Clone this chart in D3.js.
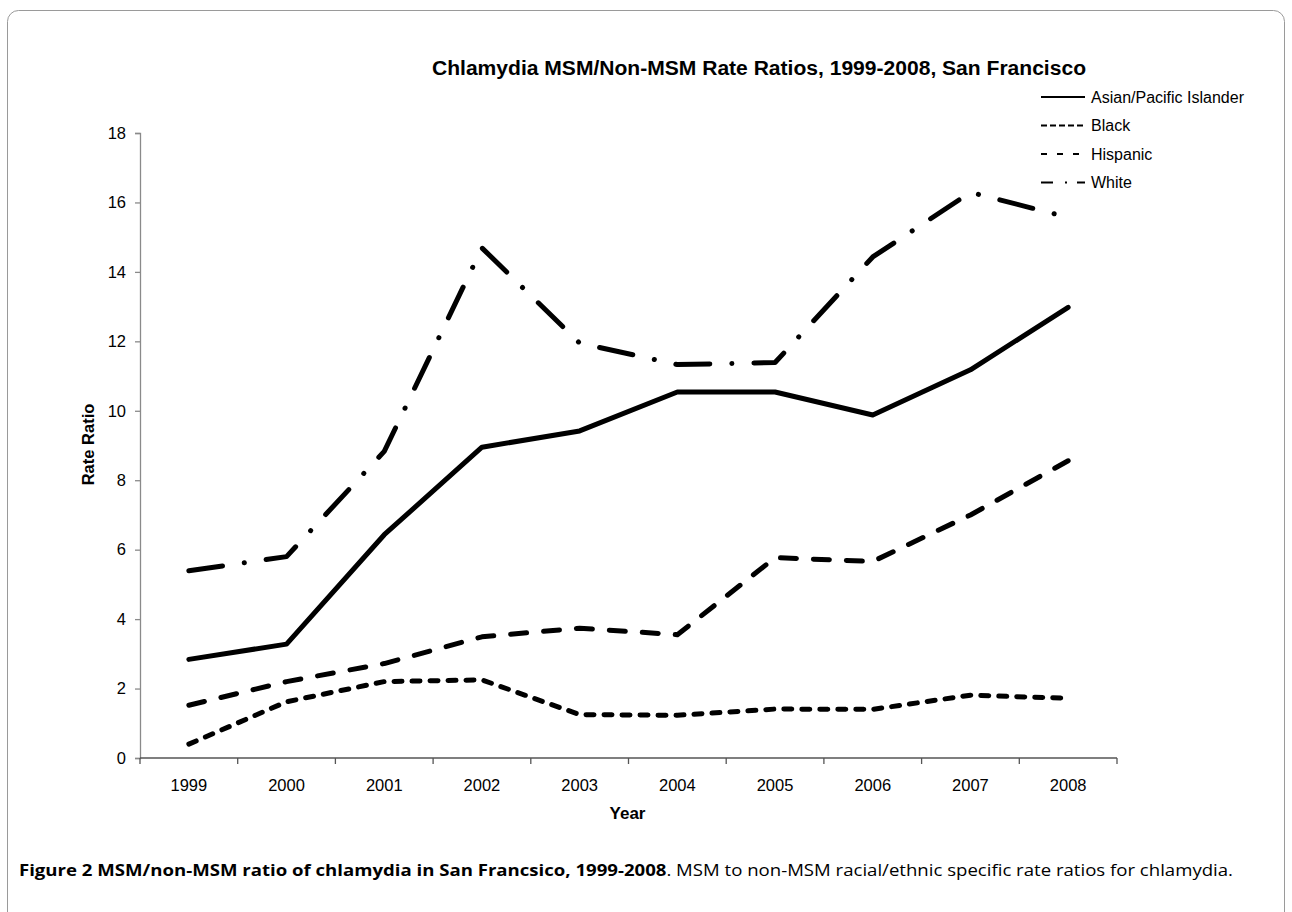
<!DOCTYPE html>
<html>
<head>
<meta charset="utf-8">
<script src="https://cdn.jsdelivr.net/npm/d3@7"></script>
<style>
  body { margin: 0; background: #fff; }
  svg text { font-family: "Liberation Sans", Arial, sans-serif; fill: #000; }
</style>
</head>
<body>
<div id="chart"></div>
<script>
var svgWidth = 1292;
var svgHeight = 912;

// data
var years = ["1999", "2000", "2001", "2002", "2003", "2004", "2005", "2006", "2007", "2008"];
var asian = [2.84, 3.28, 6.43, 8.95, 9.42, 10.54, 10.54, 9.88, 11.18, 12.98];
var black = [0.40, 1.62, 2.20, 2.25, 1.25, 1.23, 1.41, 1.40, 1.81, 1.72];
var hispanic = [1.52, 2.20, 2.72, 3.49, 3.74, 3.55, 5.77, 5.66, 7.00, 8.56];
var white = [5.39, 5.80, 8.83, 14.69, 11.95, 11.33, 11.39, 14.43, 16.29, 15.57];
var yTicks = [0, 2, 4, 6, 8, 10, 12, 14, 16, 18];

var seriesNames = ["Asian/Pacific Islander", "Black", "Hispanic", "White"];
var seriesValues = [asian, black, hispanic, white];
var dashes = [null, "8,10", "16,17", "34,22,0.1,22"];
var legendDashes = [null, "6,3", "6,10", "12,12,2,10,8"];

var margin = { top: 133, left: 140, right: 175, bottom: 154 };
var width = svgWidth - margin.left - margin.right;
var height = svgHeight - margin.top - margin.bottom;

var svg = d3.select("#chart")
  .append("svg")
  .attr("width", svgWidth)
  .attr("height", svgHeight);

// outer frame with rounded corners
svg.append("rect")
  .attr("x", 7.5)
  .attr("y", 10.5)
  .attr("width", 1277)
  .attr("height", 960)
  .attr("rx", 11)
  .attr("fill", "none")
  .attr("stroke", "#9a9a9a")
  .attr("stroke-width", 1);

var chartGroup = svg.append("g")
  .attr("transform", `translate(${margin.left}, ${margin.top})`);

var xScale = d3.scaleBand()
  .domain(years)
  .range([0, width]);

var yScale = d3.scaleLinear()
  .domain([0, 18])
  .range([height, 0]);

// y axis
var leftAxis = d3.axisLeft(yScale).tickValues(yTicks).tickSize(5).tickPadding(9);
var yAxis = chartGroup.append("g").call(leftAxis);
yAxis.select(".domain").attr("stroke", "#8a8a8a").attr("stroke-width", 1.3);
yAxis.selectAll(".tick line").attr("stroke", "#8a8a8a").attr("stroke-width", 1.3);
yAxis.selectAll("text")
  .attr("font-family", "Liberation Sans, Arial, sans-serif")
  .style("font-size", "16.5px").attr("fill", "#000");

// x axis, ticks sit between the categories
var xAxis = chartGroup.append("g")
  .attr("transform", `translate(0, ${height})`);
xAxis.append("line")
  .attr("x1", 0).attr("x2", width)
  .attr("stroke", "#555").attr("stroke-width", 1.3);
xAxis.selectAll(".xtick")
  .data(d3.range(years.length + 1))
  .enter()
  .append("line")
  .attr("x1", i => i * xScale.bandwidth())
  .attr("x2", i => i * xScale.bandwidth())
  .attr("y1", 0).attr("y2", 6)
  .attr("stroke", "#555").attr("stroke-width", 1.3);
xAxis.selectAll(".xlabel")
  .data(years)
  .enter()
  .append("text")
  .attr("x", d => xScale(d) + xScale.bandwidth() / 2)
  .attr("y", 33)
  .attr("text-anchor", "middle")
  .style("font-size", "16.5px")
  .text(d => d);

// axis titles
chartGroup.append("text")
  .attr("x", width / 2 - 1)
  .attr("y", height + 61)
  .attr("text-anchor", "middle")
  .style("font-size", "17px")
  .style("font-weight", "bold")
  .text("Year");

chartGroup.append("text")
  .attr("transform", "rotate(-90)")
  .attr("x", -(height / 2) + 1)
  .attr("y", -46)
  .attr("text-anchor", "middle")
  .style("font-size", "16.5px")
  .style("font-weight", "bold")
  .text("Rate Ratio");

// chart title
svg.append("text")
  .attr("x", 432)
  .attr("y", 75)
  .attr("textLength", 654)
  .attr("lengthAdjust", "spacingAndGlyphs")
  .style("font-size", "20px")
  .style("font-weight", "bold")
  .text("Chlamydia MSM/Non-MSM Rate Ratios, 1999-2008, San Francisco");

// lines
var line = d3.line()
  .x((d, i) => xScale(years[i]) + xScale.bandwidth() / 2)
  .y(d => yScale(d));

seriesValues.forEach(function(vals, k) {
  chartGroup.append("path")
    .datum(vals)
    .attr("d", line)
    .attr("fill", "none")
    .attr("stroke", "#000")
    .attr("stroke-width", 5)
    .attr("stroke-linecap", "round")
    .attr("stroke-linejoin", "round")
    .attr("stroke-dasharray", dashes[k]);
});

// legend
var legend = svg.append("g").attr("transform", "translate(1041, 97)");
seriesNames.forEach(function(name, k) {
  var row = legend.append("g").attr("transform", `translate(0, ${k * 28.5})`);
  row.append("line")
    .attr("x1", 0).attr("x2", 44)
    .attr("stroke", "#000")
    .attr("stroke-width", 2.2)
    .attr("stroke-dasharray", legendDashes[k]);
  row.append("text")
    .attr("x", 50)
    .attr("y", 5.5)
    .style("font-size", "16px")
    .text(name);
});

// figure caption
var caption = svg.append("text")
  .attr("x", 19)
  .attr("y", 876)
  .attr("textLength", 1214)
  .attr("lengthAdjust", "spacingAndGlyphs")
  .style("font-family", "'Open Sans', 'Noto Sans', sans-serif")
  .style("font-size", "16px");
caption.append("tspan")
  .style("font-weight", "bold")
  .style("font-family", "'Open Sans', 'Noto Sans', sans-serif")
  .text("Figure 2 MSM/non-MSM ratio of chlamydia in San Francsico, 1999-2008");
caption.append("tspan")
  .style("font-family", "'Open Sans', 'Noto Sans', sans-serif")
  .text(". MSM to non-MSM racial/ethnic specific rate ratios for chlamydia.");
</script>
</body>
</html>
